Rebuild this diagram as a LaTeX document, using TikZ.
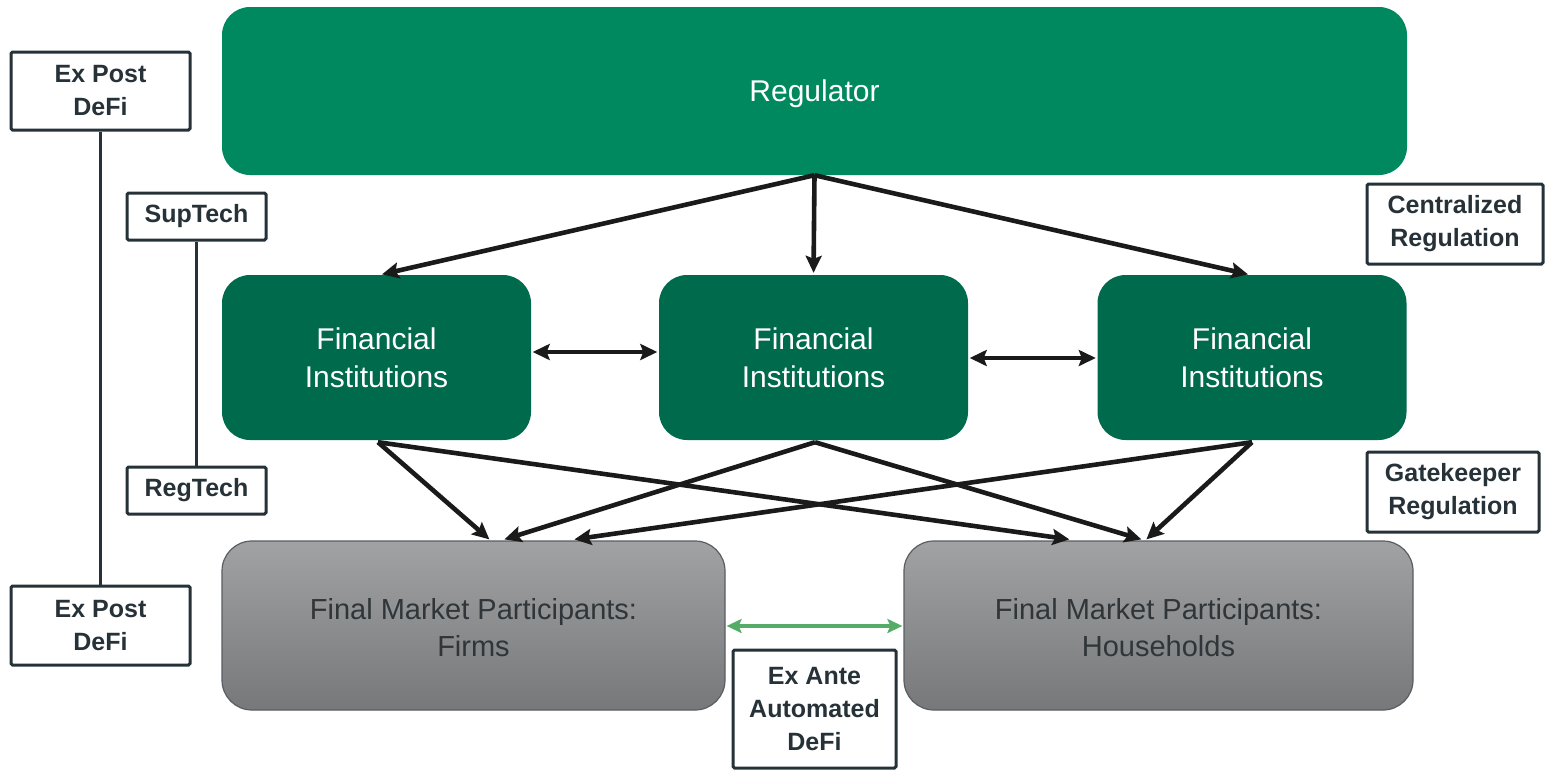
\documentclass[tikz,border=0pt]{standalone}
\usepackage{fontspec}
\setmainfont{Liberation Sans}
\usetikzlibrary{arrows.meta,calc,shadings}

\definecolor{regGreen}{RGB}{0,137,94}
\definecolor{instGreen}{RGB}{0,106,76}
\definecolor{labelInk}{RGB}{38,50,56}
\definecolor{partText}{RGB}{47,53,56}
\definecolor{partTop}{RGB}{161,162,164}
\definecolor{partBottom}{RGB}{118,120,122}
\definecolor{partEdge}{RGB}{88,94,98}
\definecolor{arrowInk}{RGB}{26,26,26}
\definecolor{linkGreen}{RGB}{84,172,102}

\tikzset{
  mainbox/.style={rounded corners=28pt, draw=none, text=white, align=center,
    font=\fontsize{30}{38}\selectfont, inner sep=0pt},
  regbox/.style={mainbox, fill=regGreen},
  instbox/.style={mainbox, fill=instGreen, minimum width=309pt, minimum height=165pt},
  partbox/.style={rounded corners=30pt, draw=partEdge, line width=1.2pt,
    top color=partTop, bottom color=partBottom, text=partText, align=center,
    font=\fontsize{29}{37}\selectfont, minimum height=169pt, inner sep=0pt},
  tagbox/.style={draw=labelInk, line width=3pt, rounded corners=1.5pt, fill=white,
    text=labelInk, align=center, font=\bfseries\fontsize{25}{33}\selectfont,
    inner sep=0pt},
  flow/.style={draw=arrowInk, line width=4.6pt,
    -{Stealth[length=17pt,width=16pt,inset=3pt]}},
  twoway/.style={draw=arrowInk, line width=4.6pt,
    {Stealth[length=17pt,width=16pt,inset=3pt]}-{Stealth[length=17pt,width=16pt,inset=3pt]}},
  greenway/.style={draw=linkGreen, line width=3.2pt,
    {Stealth[length=15pt,width=14pt,inset=3pt]}-{Stealth[length=15pt,width=14pt,inset=3pt]}},
  tagline/.style={draw=labelInk, line width=3pt},
}

\begin{document}
\begin{tikzpicture}[x=1pt, y=-1pt]
  \useasboundingbox (0,0) rectangle (1545,772);

  % main boxes
  \node[regbox, minimum width=1185pt, minimum height=168pt] (reg) at (814.5,91) {};
  \node[text=white, font=\fontsize{30}{38}\selectfont] (regtext) at (reg.center) [yshift=-3pt] {Regulator};
  \node[instbox] (fi1) at (376.5,357.5) {Financial\\Institutions};
  \node[instbox] (fi2) at (813.5,357.5) {Financial\\Institutions};
  \node[instbox] (fi3) at (1252,357.5) {Financial\\Institutions};
  \node[partbox, minimum width=503pt] (firms) at (473.5,625.5) {};
  \node[partbox, minimum width=509pt] (homes) at (1158.5,625.5) {};
  \node[text=partText, align=center, font=\fontsize{29}{37}\selectfont] (firmstext)
    at (firms.center) [yshift=-2.5pt] {Final Market Participants:\\Firms};
  \node[text=partText, align=center, font=\fontsize{29}{37}\selectfont] (homestext)
    at (homes.center) [yshift=-2.5pt] {Final Market Participants:\\Households};

  % side labels
  \node[tagbox, minimum width=179pt, minimum height=78pt] (post1) at (100.5,91) {Ex Post\\DeFi};
  \node[tagbox, minimum width=179pt, minimum height=79pt] (post2) at (100.5,625.5) {Ex Post\\DeFi};
  \node[tagbox, minimum width=139pt, minimum height=47pt] (sup) at (196.5,216.5) {SupTech};
  \node[tagbox, minimum width=139pt, minimum height=47pt] (regt) at (196.5,490.5) {RegTech};
  \node[tagbox, minimum width=176pt, minimum height=80pt] (central) at (1455,224) {Centralized\\Regulation};
  \node[tagbox, minimum width=172pt, minimum height=80pt] (gate) at (1453,492) {Gatekeeper\\Regulation};
  \node[tagbox, minimum width=163pt, minimum height=118pt] (ante) at (814.5,709) {Ex Ante\\Automated\\DeFi};

  % label connectors
  \draw[tagline] (post1.south) -- (post2.north);
  \draw[tagline] (sup.south) -- (regt.north);

  % regulator to institutions
  \draw[flow, shorten >=2pt] (reg.south) -- ($(fi1.north)+(3.5,0)$);
  \draw[flow, shorten >=2pt] (reg.south) -- (fi2.north);
  \draw[flow, shorten >=2pt] (reg.south) -- ($(fi3.north)+(-2,0)$);

  % between institutions
  \draw[twoway] ($(fi1.east)+(1.5,-5.5)$) -- ($(fi2.west)+(-1.5,-5.5)$);
  \draw[twoway] ($(fi2.east)+(1.5,0.5)$) -- ($(fi3.west)+(-1.5,0.5)$);

  % institutions to participants
  \coordinate (f1) at ($(firms.north west)+(268,-1)$);
  \coordinate (f2) at ($(firms.north west)+(283,-1)$);
  \coordinate (f3) at ($(firms.north west)+(353,-1)$);
  \coordinate (h1) at ($(homes.north west)+(166,-1)$);
  \coordinate (h2) at ($(homes.north west)+(238,-1)$);
  \coordinate (h3) at ($(homes.north west)+(243,-1)$);
  \draw[flow] ($(fi1.south)+(1.5,2)$) -- (f1);
  \draw[flow] ($(fi1.south)+(1.5,2)$) -- (h1);
  \draw[flow] ($(fi2.south)+(1.5,2)$) -- (f2);
  \draw[flow] ($(fi2.south)+(1.5,2)$) -- (h2);
  \draw[flow] ($(fi3.south)+(0,2)$) -- (f3);
  \draw[flow] ($(fi3.south)+(0,2)$) -- (h3);

  % peer link between participants
  \draw[greenway] ($(firms.east)+(1,0.5)$) -- ($(homes.west)+(-1,0.5)$);
\end{tikzpicture}
\end{document}
